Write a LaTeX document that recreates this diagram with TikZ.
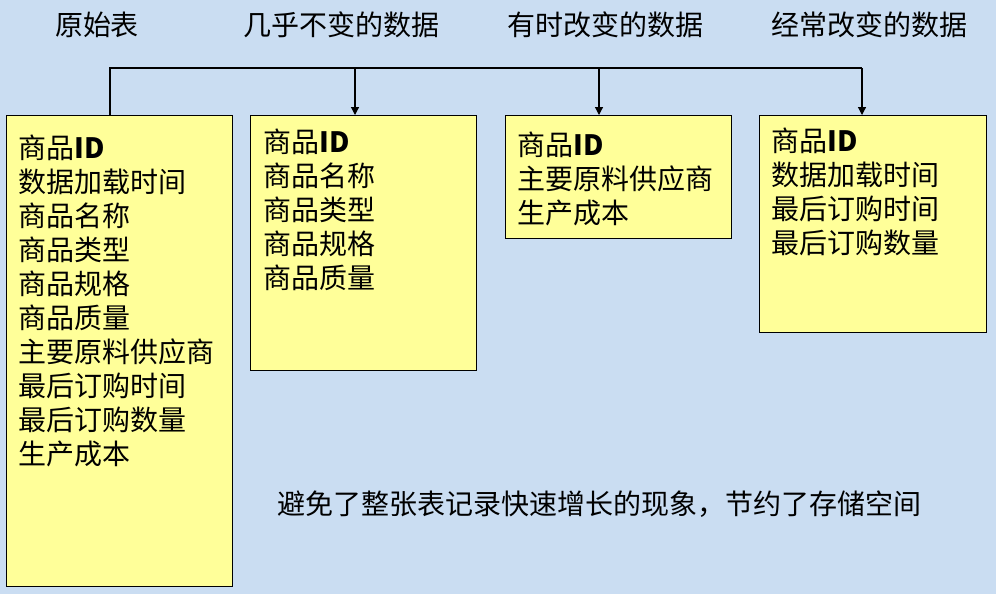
\documentclass[tikz,border=0pt]{standalone}
\usepackage{fontspec}
\setmainfont{Noto Sans CJK SC}
\usetikzlibrary{arrows.meta}
\definecolor{bg}{RGB}{202,221,242}
\definecolor{boxy}{RGB}{255,255,153}
\newcommand{\pid}{商品\textbf{ID}}
\begin{document}
\begin{tikzpicture}[x=0.75pt,y=-0.75pt,
  box/.style={draw=black, line width=0.9pt, fill=boxy, inner sep=0pt, anchor=north west},
  lbl/.style={anchor=north west, align=left, font=\fontsize{21}{25.5}\selectfont, inner sep=0pt},
  hdr/.style={font=\fontsize{21}{25.5}\selectfont, inner sep=0pt},
  conn/.style={line width=0.9pt},
  arr/.style={conn, -{Triangle[length=6pt,width=6pt]}}]
\fill[bg] (0,0) rectangle (996,594);
\useasboundingbox (0,0) rectangle (996,594);
% headers
\node[hdr] (h1) at (97,25) {原始表};
\node[hdr] (h2) at (341,25) {几乎不变的数据};
\node[hdr] (h3) at (605,25) {有时改变的数据};
\node[hdr] (h4) at (869,25) {经常改变的数据};
% boxes
\node[box, minimum width=169.5pt, minimum height=353.25pt] (b1) at (6,115) {};
\node[box, minimum width=169.5pt, minimum height=191.25pt] (b2) at (250,115) {};
\node[box, minimum width=169.5pt, minimum height=92.25pt] (b3) at (505,115) {};
\node[box, minimum width=170.25pt, minimum height=162.75pt] (b4) at (759,115) {};
% texts
\node[lbl] (t1) at (18,135) {\pid\\数据加载时间\\商品名称\\商品类型\\商品规格\\商品质量\\主要原料供应商\\最后订购时间\\最后订购数量\\生产成本};
\node[lbl] (t2) at (263,129) {\pid\\商品名称\\商品类型\\商品规格\\商品质量};
\node[lbl] (t3) at (517,132) {\pid\\主要原料供应商\\生产成本};
\node[lbl] (t4) at (771,128) {\pid\\数据加载时间\\最后订购时间\\最后订购数量};
% connectors
\coordinate (j1) at (110,68);
\coordinate (j2) at (355,68);
\coordinate (j3) at (599,68);
\coordinate (j4) at (862,68);
\draw[conn] (b1.north -| j1) -- (j1) -- (j4);
\draw[arr] (j2) -- (b2.north -| j2);
\draw[arr] (j3) -- (b3.north -| j3);
\draw[arr] (j4) -- (b4.north -| j4);
% bottom note
\node[hdr] (note) at (599,504) {避免了整张表记录快速增长的现象，节约了存储空间};
\end{tikzpicture}
\end{document}
